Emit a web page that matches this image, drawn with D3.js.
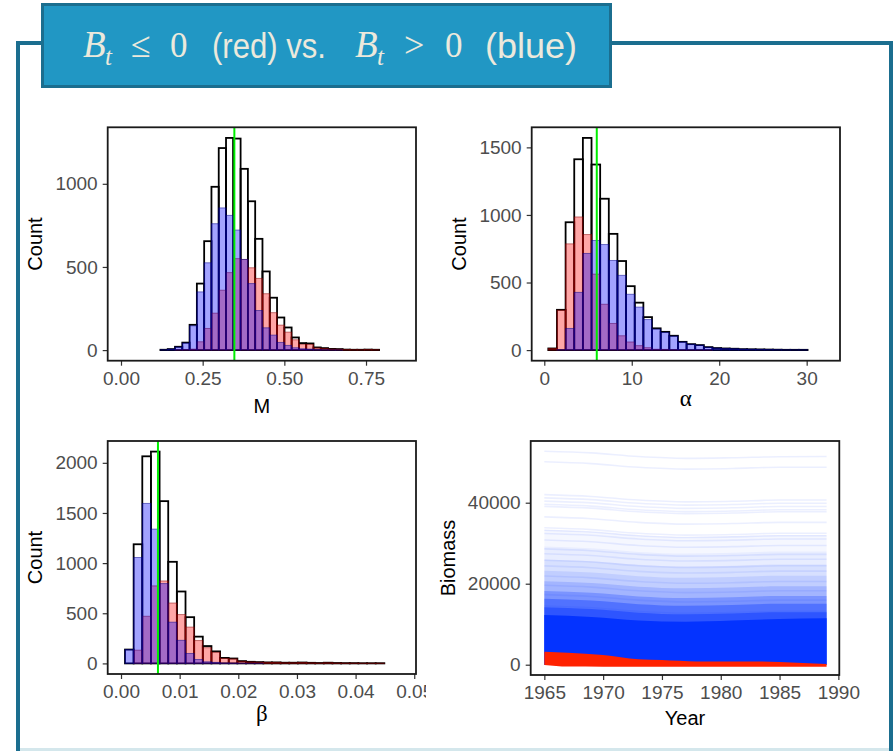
<!DOCTYPE html>
<html>
<head>
	<meta charset="UTF-8" />
	<title>Bt <= 0 vs Bt > 0</title>
	<script src="https://d3js.org/d3.v7.min.js"></script>
	<style type="text/css">
		body{margin:0; background:#fff;}
		.tick text{fill:#4d4d4d; font-family:"Liberation Sans", Arial, sans-serif; font-size:19px;}
		.tick line{stroke:#333; stroke-width:1.2;}
		.domain{display:none;}
		.axtitle{font-family:"Liberation Sans", Arial, sans-serif; font-size:20px; fill:#000;}
		.greek{font-family:"Liberation Serif", "DejaVu Serif", serif; font-size:23px; fill:#000;}
	</style>
</head>
<body>
	<svg id="chart" width="894" height="751"></svg>

	<script type="text/javascript">
	// ---- data ----

	// M histogram: 30 bins between mLo and mHi
	var mLo = 0.1207, mHi = 0.79, mMark = 0.347
	var mBlue = [2, 6, 18, 42, 146, 350, 525, 760, 855, 810, 722, 545, 400, 238, 134, 90, 46, 28, 14, 8, 6, 3, 2, 1, 1, 0, 0, 0, 0, 0]
	var mRed  = [0, 0, 2, 3, 6, 50, 130, 222, 360, 466, 550, 545, 495, 431, 339, 225, 150, 108, 62, 34, 34, 13, 10, 6, 5, 3, 2, 2, 3, 2]

	// alpha histogram
	var aLo = 0.46, aHi = 30.1, aMark = 6.0
	var aBlue = [0, 3, 160, 427, 715, 811, 781, 663, 553, 413, 318, 226, 155, 130, 103, 60, 43, 36, 21, 15, 12, 10, 7, 6, 5, 4, 3, 2, 2, 2]
	var aRed  = [12, 295, 786, 985, 855, 562, 339, 197, 106, 60, 33, 18, 6, 5, 3, 1, 1, 1, 1, 0, 0, 0, 0, 0, 0, 0, 0, 0, 0, 0]

	// beta histogram
	var bLo = 0.00068, bHi = 0.0449, bMark = 0.0063
	var bBlue = [138, 1056, 1595, 1339, 796, 411, 230, 99, 39, 16, 10, 5, 4, 2, 1, 1, 0, 0, 0, 0, 0, 0, 0, 0, 0, 0, 0, 0, 0, 0]
	var bRed  = [0, 132, 470, 773, 822, 602, 487, 362, 228, 157, 110, 50, 45, 21, 15, 12, 10, 10, 7, 7, 9, 6, 4, 7, 4, 3, 3, 2, 2, 2]

	// biomass trajectories
	var bioYears = [1965, 1969, 1973, 1977, 1981, 1985, 1989]
	// upper edges of the density bands (densest first) and their opacity
	var bandTops = [
		[12270, 11800, 10900, 10600, 10900, 11300, 11450],
		[14200, 13750, 12850, 12450, 12650, 12950, 12950],
		[16300, 15850, 14950, 14550, 14750, 15050, 15050],
		[18200, 17750, 16850, 16450, 16650, 16950, 16950],
		[20600, 20150, 19250, 18850, 19050, 19350, 19350],
		[23200, 22750, 21850, 21450, 21650, 21950, 21950],
		[26000, 25550, 24650, 24250, 24450, 24750, 24750],
		[29200, 28750, 27850, 27450, 27650, 27950, 27950],
		[33300, 32850, 31950, 31550, 31750, 32050, 32050]
	]
	var bandAlpha = [1, 0.45, 0.35, 0.25, 0.16, 0.1, 0.07, 0.05, 0.04]
	var blueRuns = [
		[52700, 52300, 51400, 50950, 51100, 51350, 51400],
		[50100, 49650, 48750, 48300, 48450, 48750, 48750],
		[42000, 41550, 40650, 40200, 40350, 40650, 40650],
		[41200, 40750, 39850, 39400, 39550, 39850, 39850],
		[40400, 39950, 39050, 38600, 38750, 39050, 39050],
		[39600, 39150, 38250, 37800, 37950, 38250, 38250],
		[39100, 38650, 37750, 37300, 37450, 37750, 37750],
		[36500, 36050, 35150, 34700, 34850, 35150, 35150],
		[33800, 33350, 32450, 32000, 32150, 32450, 32450],
		[33200, 32750, 31850, 31400, 31550, 31850, 31850],
		[32400, 31950, 31050, 30600, 30750, 31050, 31050],
		[30800, 30350, 29450, 29000, 29150, 29450, 29450],
		[28600, 28150, 27250, 26800, 26950, 27250, 27250],
		[27400, 26950, 26050, 25600, 25750, 26050, 26050],
		[25800, 25350, 24450, 24000, 24150, 24450, 24450],
		[24400, 23950, 23050, 22650, 22800, 23100, 23100],
		[21900, 21450, 20550, 20100, 20250, 20550, 20550],
		[19600, 19150, 18250, 17800, 17950, 18250, 18250],
		[17300, 16850, 15950, 15500, 15650, 15950, 15950],
		[14500, 14050, 13150, 12700, 12850, 13150, 13150]
	]
	var redYears = [1965, 1967, 1970, 1973, 1975, 1978, 1982, 1985, 1987, 1989]
	var redTop   = [3210, 2960, 2390, 1320, 1150, 800, 820, 660, 450, 170]
	var redBot   = [-60, -450, -480, -480, -480, -480, -480, -480, -480, -480]

	// ---- layout ----
	var svg = d3.select("#chart")
	var teal = "#1b6e8f"

	// frame + title box
	svg.append("rect").attr("x", 18).attr("y", 43).attr("width", 873).attr("height", 760)
		.attr("fill", "none").attr("stroke", teal).attr("stroke-width", 4)
	svg.append("rect").attr("x", 20).attr("y", 748).attr("width", 869).attr("height", 3).attr("fill", "#d4e7ec")
	svg.append("rect").attr("x", 42.5).attr("y", 4.5).attr("width", 568).attr("height", 82)
		.attr("fill", "#2197c4").attr("stroke", teal).attr("stroke-width", 3)

	var serif = '"Liberation Serif", "DejaVu Serif", serif'
	var sans = '"Liberation Sans", Arial, sans-serif'
	var titleParts = [
		{t: "B", x: 83, y: 57, f: serif, s: 37, it: true},
		{t: "t", x: 105, y: 65, f: serif, s: 25, it: true},
		{t: "\u2264", x: 131, y: 57, f: serif, s: 36},
		{t: "0", x: 170, y: 57, f: serif, s: 35},
		{t: "(red) vs.", x: 212, y: 58, f: sans, s: 35, len: 114},
		{t: "B", x: 355, y: 57, f: serif, s: 37, it: true},
		{t: "t", x: 377, y: 65, f: serif, s: 25, it: true},
		{t: ">", x: 404, y: 57, f: serif, s: 36},
		{t: "0", x: 445, y: 57, f: serif, s: 35},
		{t: "(blue)", x: 485, y: 58, f: sans, s: 35, len: 92}
	]
	titleParts.forEach(p=>{
		var t = svg.append("text").attr("x", p.x).attr("y", p.y).text(p.t)
			.attr("fill", "#ece9dc").style("font-family", p.f).style("font-size", p.s + "px")
			.style("font-style", p.it ? "italic" : "normal")
		if (p.len) t.attr("textLength", p.len).attr("lengthAdjust", "spacingAndGlyphs")
	})

	function border(g, p){
		g.append("rect").attr("x", p.x0).attr("y", p.y0).attr("width", p.x1 - p.x0).attr("height", p.y1 - p.y0)
			.attr("fill", "none").attr("stroke", "#1a1a1a").attr("stroke-width", 1.8)
	}

	function histPanel(p, xDom, lo, hi, blue, red, mark, xTicks, xFmt, yTicks){
		var g = svg.append("g")
		var x = d3.scaleLinear().domain(xDom).range([p.x0, p.x1])
		var total = blue.map((b, i)=>b + red[i])
		var ymax = d3.max(total)
		var y = d3.scaleLinear().domain([-0.05 * ymax, 1.05 * ymax]).range([p.y1, p.y0])
		var w = (hi - lo) / blue.length
		var bins = total.map((t, i)=>({x0: lo + i * w, x1: lo + (i + 1) * w, total: t, blue: blue[i], red: red[i]}))

		function bars(key, fill, stroke, fo, so, sw){
			g.append("g").selectAll("rect")
				.data(bins)
				.enter()
				.append("rect")
				.attr("x", d=>x(d.x0))
				.attr("width", d=>x(d.x1) - x(d.x0))
				.attr("y", d=>y(d[key]))
				.attr("height", d=>y(0) - y(d[key]))
				.attr("fill", fill).attr("fill-opacity", fo)
				.attr("stroke", stroke).attr("stroke-opacity", so).attr("stroke-width", sw)
		}
		bars("total", "none", "#000", 0, 1, 1.8)
		bars("red", "#ff0000", "#8b0000", 0.35, 0.5, 1)
		bars("blue", "#0000ff", "#00008b", 0.36, 0.5, 1)

		g.append("line").attr("x1", x(mark)).attr("x2", x(mark)).attr("y1", p.y0).attr("y2", p.y1)
			.attr("stroke", "#00ee00").attr("stroke-width", 2)

		g.append("g").attr("transform", "translate(0," + p.y1 + ")")
			.call(d3.axisBottom(x).tickValues(xTicks).tickFormat(xFmt).tickSize(5).tickPadding(6))
		g.append("g").attr("transform", "translate(" + p.x0 + ",0)")
			.call(d3.axisLeft(y).tickValues(yTicks).tickFormat(d3.format("d")).tickSize(5).tickPadding(5))
		border(g, p)
		return g
	}

	// panel 1: M
	var P1 = {x0: 107.7, x1: 416, y0: 127.3, y1: 360.7}
	histPanel(P1, [-0.0407, 0.903], mLo, mHi, mBlue, mRed, mMark,
		[0, 0.25, 0.5, 0.75], d3.format(".2f"), [0, 500, 1000])
	svg.append("text").attr("class", "axtitle").attr("x", (P1.x0 + P1.x1) / 2).attr("y", 413)
		.attr("text-anchor", "middle").text("M")
	svg.append("text").attr("class", "axtitle").attr("transform", "translate(42," + (P1.y0 + P1.y1) / 2 + ") rotate(-90)")
		.attr("text-anchor", "middle").text("Count")

	// panel 2: alpha
	var P2 = {x0: 531.7, x1: 840, y0: 127.3, y1: 360.7}
	histPanel(P2, [-1.44, 33.81], aLo, aHi, aBlue, aRed, aMark,
		[0, 10, 20, 30], d3.format("d"), [0, 500, 1000, 1500])
	svg.append("text").attr("class", "greek").attr("x", (P2.x0 + P2.x1) / 2).attr("y", 406)
		.attr("text-anchor", "middle").text("\u03b1")
	svg.append("text").attr("class", "axtitle").attr("transform", "translate(466," + (P2.y0 + P2.y1) / 2 + ") rotate(-90)")
		.attr("text-anchor", "middle").text("Count")

	// panel 3: beta (right side clipped like the source image)
	svg.append("clipPath").attr("id", "clip3").append("rect").attr("x", 0).attr("y", 0).attr("width", 426).attr("height", 751)
	var P3 = {x0: 107.7, x1: 416, y0: 441, y1: 674}
	histPanel(P3, [-0.00227, 0.0503], bLo, bHi, bBlue, bRed, bMark,
		[0, 0.01, 0.02, 0.03, 0.04, 0.05], d3.format(".2f"), [0, 500, 1000, 1500, 2000])
		.attr("clip-path", "url(#clip3)")
	svg.append("text").attr("class", "greek").attr("x", (P3.x0 + P3.x1) / 2).attr("y", 721)
		.attr("text-anchor", "middle").text("\u03b2")
	svg.append("text").attr("class", "axtitle").attr("transform", "translate(42," + (P3.y0 + P3.y1) / 2 + ") rotate(-90)")
		.attr("text-anchor", "middle").text("Count")

	// panel 4: biomass
	var P4 = {x0: 530.7, x1: 839.3, y0: 441, y1: 675}
	var g4 = svg.append("g")
	var x4 = d3.scaleLinear().domain([1963.84, 1990.08]).range([P4.x0, P4.x1])
	var y4 = d3.scaleLinear().domain([-2543, 55235]).range([P4.y1, P4.y0])
	var blueCol = "#0433ff"

	var bandArea = d3.area().x((d, i)=>x4(bioYears[i])).y0(y4(0)).y1(d=>y4(d)).curve(d3.curveMonotoneX)
	// widest (faintest) band first, densest core last
	bandTops.slice().reverse().forEach((b, j)=>{
		var a = bandAlpha[bandTops.length - 1 - j]
		g4.append("path").attr("d", bandArea(b)).attr("fill", blueCol).attr("fill-opacity", a)
	})
	var runLine = d3.line().x((d, i)=>x4(bioYears[i])).y(d=>y4(d)).curve(d3.curveMonotoneX)
	g4.selectAll(".run")
		.data(blueRuns)
		.enter()
		.append("path")
		.attr("class", "run")
		.attr("d", runLine)
		.attr("fill", "none").attr("stroke", blueCol).attr("stroke-opacity", 0.08).attr("stroke-width", 1.6)

	var redArea = d3.area().x((d, i)=>x4(redYears[i])).y0((d, i)=>y4(redBot[i])).y1(d=>y4(d)).curve(d3.curveMonotoneX)
	g4.append("path").attr("d", redArea(redTop)).attr("fill", "#ff2200")

	g4.append("g").attr("transform", "translate(0," + P4.y1 + ")")
		.call(d3.axisBottom(x4).tickValues([1965, 1970, 1975, 1980, 1985, 1990]).tickFormat(d3.format("d")).tickSize(5).tickPadding(6))
	g4.append("g").attr("transform", "translate(" + P4.x0 + ",0)")
		.call(d3.axisLeft(y4).tickValues([0, 20000, 40000]).tickFormat(d3.format("d")).tickSize(5).tickPadding(5))
	border(g4, P4)
	svg.append("text").attr("class", "axtitle").attr("x", (P4.x0 + P4.x1) / 2).attr("y", 725)
		.attr("text-anchor", "middle").text("Year")
	svg.append("text").attr("class", "axtitle").attr("transform", "translate(455," + (P4.y0 + P4.y1) / 2 + ") rotate(-90)")
		.attr("text-anchor", "middle").text("Biomass")
	</script>
</body>
</html>
